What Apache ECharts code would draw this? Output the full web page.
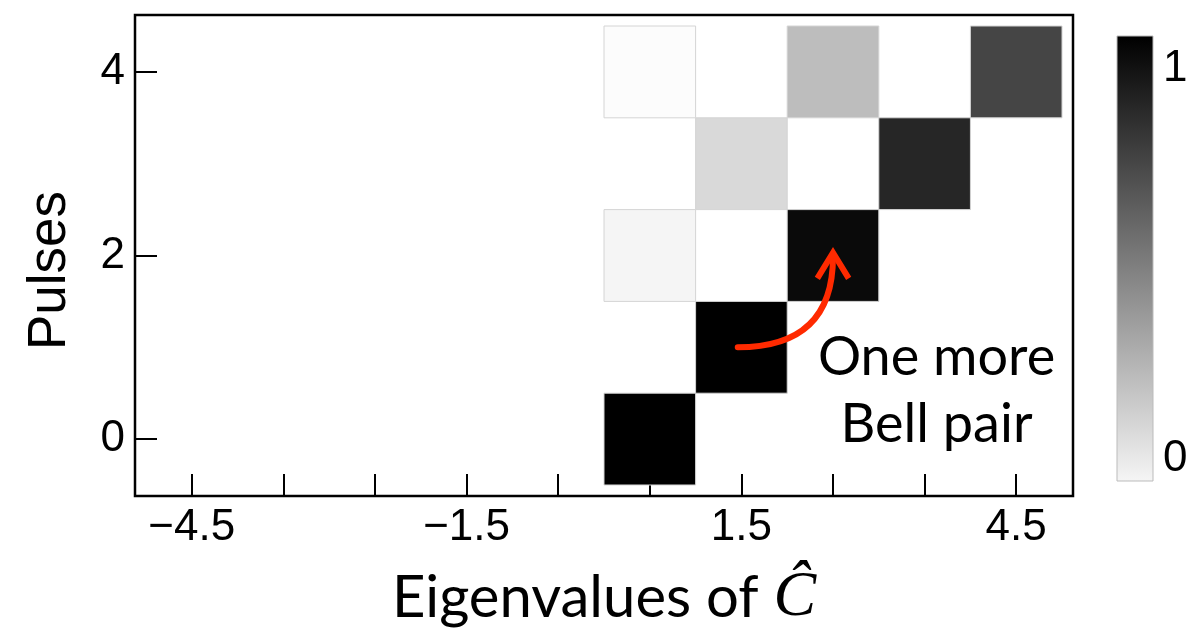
<!DOCTYPE html>
<html>
<head>
<meta charset="utf-8">
<script src="https://cdn.jsdelivr.net/npm/echarts@6/dist/echarts.min.js"></script>
<style>html,body{margin:0;padding:0;background:#fff;}#c{width:1190px;height:629px;}</style>
</head>
<body>
<div id="c"></div>
<script>
// ---- data ----
const eigenvalues = [0.5, 1.5, 0.5, 2.5, 1.5, 3.5, 0.5, 2.5, 4.5];
const pulses      = [0,   1,   2,   2,   3,   3,   4,   4,   4  ];
const weights     = [1.0, 1.0, 0.04, 0.96, 0.15, 0.85, 0.01, 0.26, 0.73];
const xTickValues  = [-4.5, -3.5, -2.5, -1.5, -0.5, 0.5, 1.5, 2.5, 3.5, 4.5];
const xLabelValues = [-4.5, -1.5, 1.5, 4.5];
const yTickValues  = [0, 2, 4];
const colorbarTicks = [0, 1];
const colorbarRange = [-0.058, 1.083];
const arrowPoints = [[1.46, 1.0], [2.5, 1.0], [2.5, 2.03]]; // start, control, tip
const annotationPos = [3.63, 0.52];
const annotationText = 'One more\nBell pair';

const cellData = eigenvalues.map((x, i) => [x, pulses[i], weights[i]]);

const chart = echarts.init(document.getElementById('c'), null, {renderer: 'canvas'});
const tickFont = {fontFamily: 'Liberation Sans, Arial, sans-serif', fontSize: 44, color: '#000'};

const option = {
  animation: false,
  backgroundColor: '#fff',
  grid: [
    {left: 135, top: 15, width: 938, height: 481, show: true, borderColor: '#000', borderWidth: 2.5, backgroundColor: 'transparent', outerBoundsMode: 'none', containLabel: false},
    {left: 1117, top: 36, width: 36, height: 445, show: false, outerBoundsMode: 'none', containLabel: false}
  ],
  xAxis: [
    {
      type: 'value', gridIndex: 0, min: -5.12, max: 5.12,
      splitLine: {show: false},
      axisLine: {show: false, onZero: false},
      axisTick: {show: true, inside: true, length: 22, lineStyle: {color: '#000', width: 2}, customValues: xTickValues},
      axisLabel: Object.assign({show: true, margin: 10, customValues: xLabelValues,
        formatter: v => String(v).replace('-', '\u2212')}, tickFont),
      name: 'Eigenvalues of {c|\u0108}',
      nameLocation: 'middle', nameGap: 70,
      nameTextStyle: {fontFamily: 'Lato, sans-serif', fontSize: 58, color: '#000',
        rich: {c: {fontFamily: 'Liberation Serif, serif', fontStyle: 'italic', fontSize: 64, color: '#000'}}}
    },
    {type: 'value', gridIndex: 1, min: 0, max: 1, show: false}
  ],
  yAxis: [
    {
      type: 'value', gridIndex: 0, min: -0.62, max: 4.62,
      splitLine: {show: false},
      axisLine: {show: false, onZero: false},
      axisTick: {show: true, inside: true, length: 22, lineStyle: {color: '#000', width: 2}, customValues: yTickValues},
      axisLabel: Object.assign({show: true, margin: 10, customValues: yTickValues}, tickFont),
      name: 'Pulses', nameLocation: 'middle', nameGap: 58,
      nameTextStyle: {fontFamily: 'Liberation Sans, Arial, sans-serif', fontSize: 53, color: '#000', padding: [0, 30, 0, 0]}
    },
    {
      type: 'value', gridIndex: 1, min: colorbarRange[0], max: colorbarRange[1], position: 'right',
      splitLine: {show: false},
      axisLine: {show: false, onZero: false},
      axisTick: {show: true, inside: true, length: 3, lineStyle: {color: '#fff', width: 1}, customValues: colorbarTicks},
      axisLabel: Object.assign({show: true, margin: 10, customValues: colorbarTicks}, tickFont)
    }
  ],
  visualMap: {
    show: false, type: 'continuous', min: 0, max: 1, dimension: 2, seriesIndex: 0,
    inRange: {color: ['#ffffff', '#000000']}
  },
  series: [
    {
      type: 'custom', xAxisIndex: 0, yAxisIndex: 0, data: cellData, z: 2,
      renderItem: function (params, api) {
        const x = api.value(0), y = api.value(1);
        const p0 = api.coord([x - 0.5, y + 0.5]);
        const p1 = api.coord([x + 0.5, y - 0.5]);
        return {type: 'rect', shape: {x: p0[0], y: p0[1], width: p1[0] - p0[0], height: p1[1] - p0[1]},
          style: {fill: api.visual('color'), stroke: '#d4d4d4', lineWidth: 1}};
      }
    },
    {
      type: 'custom', xAxisIndex: 1, yAxisIndex: 1, data: [[0, colorbarRange[1], 1, colorbarRange[0]]], z: 1,
      renderItem: function (params, api) {
        const p0 = api.coord([api.value(0), api.value(1)]);
        const p1 = api.coord([api.value(2), api.value(3)]);
        return {type: 'rect', shape: {x: p0[0], y: p0[1], width: p1[0] - p0[0], height: p1[1] - p0[1]},
          style: {stroke: '#bbbbbb', lineWidth: 1,
            fill: new echarts.graphic.LinearGradient(0, 0, 0, 1, [{offset: 0, color: '#000000'}, {offset: 1, color: '#f5f5f5'}])}};
      }
    },
    {
      type: 'custom', xAxisIndex: 0, yAxisIndex: 0, z: 5,
      data: [[arrowPoints[0][0], arrowPoints[0][1], arrowPoints[1][0], arrowPoints[1][1], arrowPoints[2][0], arrowPoints[2][1]]],
      renderItem: function (params, api) {
        const a = api.coord([api.value(0), api.value(1)]);
        const c = api.coord([api.value(2), api.value(3)]);
        const b = api.coord([api.value(4), api.value(5)]);
        const ang = Math.atan2(b[1] - c[1], b[0] - c[0]);
        const L = 30, spread = 0.55;
        const l = [b[0] - L * Math.cos(ang - spread), b[1] - L * Math.sin(ang - spread)];
        const r = [b[0] - L * Math.cos(ang + spread), b[1] - L * Math.sin(ang + spread)];
        const red = '#ff2a00';
        return {type: 'group', children: [
          {type: 'bezierCurve', shape: {x1: a[0], y1: a[1], cpx1: c[0], cpy1: c[1], x2: b[0], y2: b[1] + 4},
            style: {stroke: red, lineWidth: 6, fill: null, lineCap: 'round'}},
          {type: 'polyline', shape: {points: [l, b, r]},
            style: {stroke: red, lineWidth: 6, fill: null, lineJoin: 'miter', lineCap: 'butt'}}
        ]};
      }
    },
    {
      type: 'custom', xAxisIndex: 0, yAxisIndex: 0, z: 5, clip: false,
      data: [[annotationPos[0], annotationPos[1]]],
      renderItem: function (params, api) {
        const p = api.coord([api.value(0), api.value(1)]);
        return {type: 'text', x: p[0], y: p[1],
          style: {text: annotationText, fill: '#000', font: '54px Lato, sans-serif', align: 'center', verticalAlign: 'middle', lineHeight: 67}};
      }
    }
  ]
};
chart.setOption(option);
</script>
</body>
</html>
